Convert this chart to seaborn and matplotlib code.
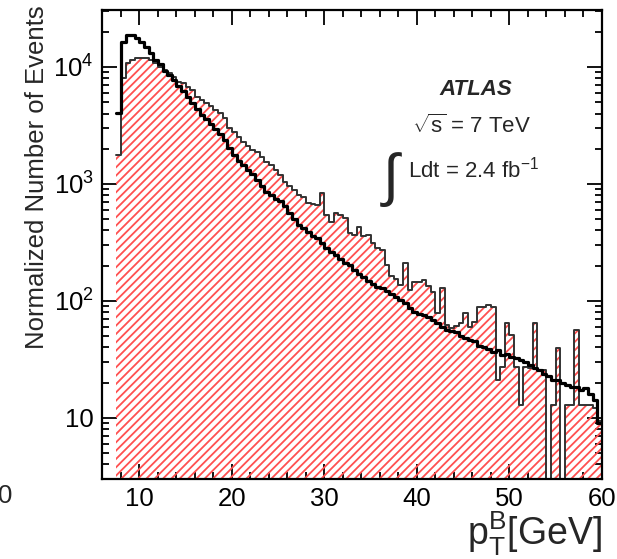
import numpy as np
import pandas as pd
import matplotlib
matplotlib.use("Agg")
import matplotlib.pyplot as plt
import seaborn as sns
from matplotlib.ticker import FixedLocator, MultipleLocator, LogLocator, NullFormatter, FixedFormatter

# ---------------- data ----------------
bin_edges = [round(7.5 + 0.5 * i, 2) for i in range(106)]   # p_T^B bins [GeV], 0.5 GeV wide

black_counts = [
    4050, 16350, 18770, 18770, 17700, 16350, 14830, 13170, 11480, 10600,
    9250, 8550, 7740, 6880, 6240, 5540, 4920, 4370, 3890, 3600,
    3260, 2950, 2680, 2380, 2030, 1770, 1570, 1450, 1320, 1220,
    1080, 963, 854, 806, 744, 720, 650, 560, 500, 445,
    420, 388, 360, 346, 315, 284, 263, 248, 230, 212,
    204, 184, 171, 161, 148, 140, 132, 129, 122, 115,
    108, 102, 96.5, 87.5, 80.9, 77.7, 76.1, 73.0, 68.8, 65.0,
    60.0, 56.6, 55.5, 54.4, 50.4, 48.4, 46.6, 45.6, 41.3, 40.5,
    38.9, 36.6, 38.1, 34.6, 35.3, 33.2, 32.6, 31.3, 30.1, 28.2,
    26.8, 25.8, 23.8, 22.8, 21.2, 21.2, 19.9, 19.1, 18.4, 18.4,
    17.3, 18.0, 16.1, 14.1, 9.0,
]

hatched_counts = [
    1770, 8050, 10820, 11480, 11940, 11940, 11940, 11480, 10820, 10000,
    9430, 8890, 8210, 7440, 7300, 6750, 6360, 5540, 5220, 4920,
    4600, 4290, 4050, 3670, 3010, 2780, 2530, 2290, 2110, 1950,
    1880, 1700, 1540, 1450, 1320, 1190, 1040, 963, 890, 806,
    774, 688, 674, 662, 837, 542, 473, 564, 542, 511,
    384, 367, 430, 360, 367, 315, 284, 273, 204, 164,
    155, 137, 212, 124, 146, 146, 152, 135, 120, 79.3,
    129, 62.4, 58.8, 61, 65, 79, 60, 66, 89, 89,
    92, 89, 21.2, 27.4, 65, 51.4, 27.4, 12.9, 27.4, 26.8,
    65, 25.8, 25.8, 0, 12.9, 39.7, 0, 12.9, 12.9, 56,
    12.9, 12.9, 12.9, 12.2, 9.4,
]

x_major = [10, 20, 30, 40, 50, 60]
y_major = [10, 100, 1000, 10000]
y_major_labels = ["10", r"$10^{2}$", r"$10^{3}$", r"$10^{4}$"]

# ---------------- style ----------------
sns.set_style("ticks")
plt.rcParams["font.family"] = ["Liberation Sans", "DejaVu Sans"]
plt.rcParams["mathtext.fontset"] = "custom"
plt.rcParams["mathtext.rm"] = "Liberation Sans"
plt.rcParams["mathtext.it"] = "Liberation Sans:italic"
plt.rcParams["mathtext.bf"] = "Liberation Sans:bold"
plt.rcParams["mathtext.sf"] = "Liberation Sans"
plt.rcParams["hatch.linewidth"] = 1.3
RED = "#ff5050"
plt.rcParams["hatch.color"] = RED

centers = [(a + b) / 2 for a, b in zip(bin_edges[:-1], bin_edges[1:])]
df = pd.DataFrame({"pt": centers, "black": black_counts, "hatched": hatched_counts})

fig = plt.figure(figsize=(6.17, 5.59), dpi=100)
ax = fig.add_axes([102 / 617, 1 - 479 / 559, 500 / 617, 469 / 559])
ax.set_yscale("log")

# hatched histogram: fill (hatch only) + thin dark outline
sns.histplot(data=df, x="pt", weights="hatched", bins=bin_edges, element="step",
             fill=True, color=RED, linewidth=0, ax=ax)
for coll in ax.collections:
    coll.set_hatch("////")
    coll.set_facecolor("none")
    coll.set_edgecolor(RED)
    coll.set_linewidth(0)
sns.histplot(data=df, x="pt", weights="hatched", bins=bin_edges, element="step",
             fill=False, color="#333333", linewidth=1.4, ax=ax)
# black histogram
sns.histplot(data=df, x="pt", weights="black", bins=bin_edges, element="step",
             fill=False, color="black", linewidth=2.3, ax=ax)

ax.set_xlim(5.96, 60)
ax.set_ylim(3.0, 3.07e4)

# ROOT-like ticks
ax.xaxis.set_major_locator(FixedLocator(x_major))
ax.xaxis.set_minor_locator(MultipleLocator(2))
ax.yaxis.set_major_locator(FixedLocator(y_major))
ax.yaxis.set_major_formatter(FixedFormatter(y_major_labels))
ax.yaxis.set_minor_locator(LogLocator(base=10, subs=np.arange(2, 10)))
ax.yaxis.set_minor_formatter(NullFormatter())
ax.tick_params(which="both", direction="in", top=True, right=True, width=1.3,
               labelsize=18.5, colors="black")
ax.tick_params(which="major", length=10.5, pad=6)
ax.tick_params(which="minor", length=5)
for s in ax.spines.values():
    s.set_linewidth(1.6)
    s.set_color("black")

ax.set_xlabel("")
ax.set_ylabel("Normalized Number of Events", fontsize=18.5)
ax.yaxis.label.set_ha("right")
ax.yaxis.label.set_va("center")
ax.yaxis.set_label_coords((37 - 102) / 500, 1.0 + 5 / 469)

fig.text(602 / 617, 1 - 545 / 559, r"$\mathrm{p}_{\mathrm{T}}^{\mathrm{B}}$[GeV]",
         fontsize=27, ha="right", va="baseline")

# annotations
fig.text(476 / 617, 1 - 90 / 559, "ATLAS", fontsize=16, fontweight="bold",
         fontstyle="italic", ha="center", va="center")
fig.text(471 / 617, 1 - 126 / 559, r"$\sqrt{\mathrm{s}}$ = 7 TeV", fontsize=16,
         ha="center", va="center")
fig.text(392 / 617, 1 - 180 / 559, r"$\int$", fontsize=42, ha="center", va="center")
fig.text(408 / 617, 1 - 170 / 559, r"Ldt = 2.4 fb$^{\mathrm{-1}}$", fontsize=16,
         ha="left", va="center")

# clipped tick label from neighbouring panel at the far left
fig.text(12 / 617, 1 - 496 / 559, "0", fontsize=18.5, ha="right", va="center")

fig.savefig("out.png", dpi=100)
